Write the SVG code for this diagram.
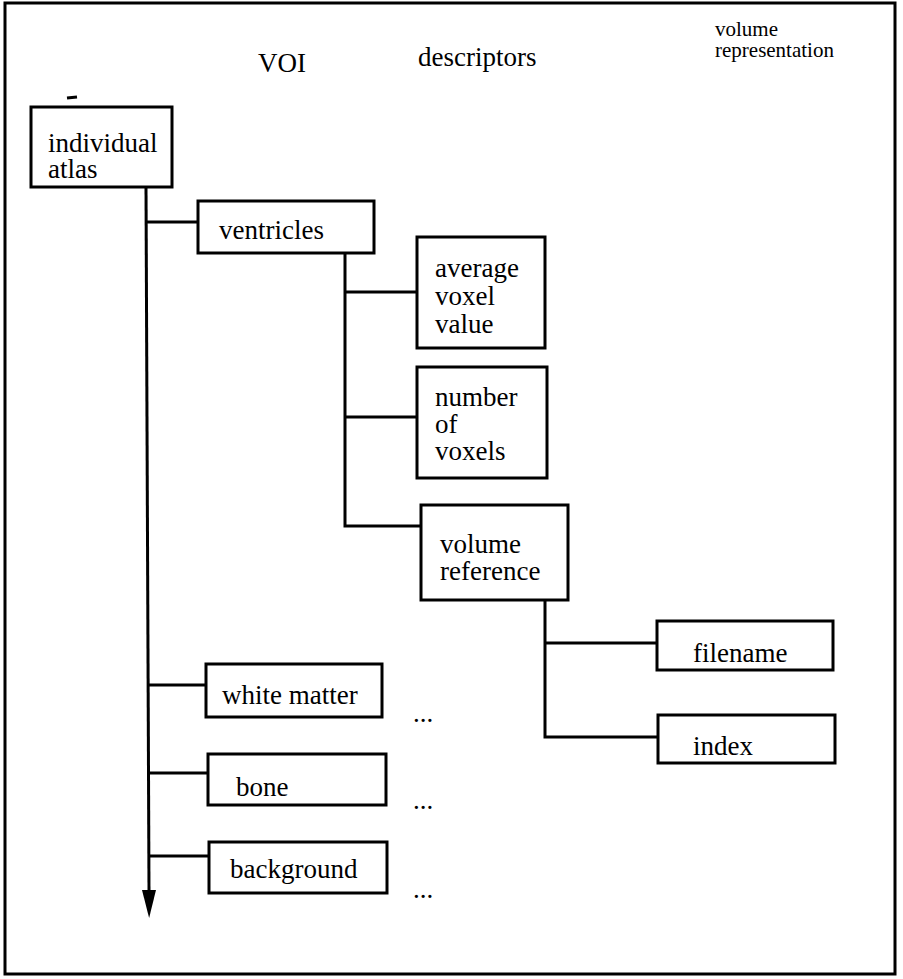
<svg xmlns="http://www.w3.org/2000/svg" width="903" height="979" viewBox="0 0 903 979">
<style>
.box{fill:#fff;stroke:#000;stroke-width:3}
.ln{fill:none;stroke:#000;stroke-width:3}
text{font-family:"Liberation Serif","DejaVu Serif",serif;font-size:27px;fill:#000}
.hs{font-size:21px}
</style>
<defs>
<marker id="ah" markerWidth="28" markerHeight="14" refX="0" refY="7" orient="auto" markerUnits="userSpaceOnUse" viewBox="0 0 28 14">
<path d="M0,0 L28,7 L0,14 Z" fill="#000"/>
</marker>
</defs>
<rect x="5" y="3" width="890" height="971" fill="#fff" stroke="#000" stroke-width="3"/>
<g id="headers" font-family="Liberation Serif, DejaVu Serif, serif">
<text x="258" y="72">VOI</text>
<text x="418" y="66">descriptors</text>
<text class="hs" x="715" y="36">volume</text>
<text class="hs" x="715" y="57">representation</text>
</g>
<path d="M67,98 L77,97" stroke="#000" stroke-width="3"/>
<g id="connectors">
<path class="ln" d="M146,187 L149,890" marker-end="url(#ah)"/>
<path class="ln" d="M146,222 L198,222"/>
<path class="ln" d="M148,685 L206,685"/>
<path class="ln" d="M148,773 L208,773"/>
<path class="ln" d="M148,856 L209,856"/>
<path class="ln" d="M345,253 L345,526 L421,526"/>
<path class="ln" d="M345,292 L417,292"/>
<path class="ln" d="M345,417 L417,417"/>
<path class="ln" d="M545,600 L545,737 L658,737"/>
<path class="ln" d="M545,643 L657,643"/>
</g>
<g font-family="Liberation Serif, DejaVu Serif, serif">
<g id="individual-atlas"><rect class="box" x="31" y="107" width="141" height="80"/><text x="48" y="152">individual</text><text x="48" y="178">atlas</text></g>
<g id="ventricles"><rect class="box" x="198" y="201" width="176" height="52"/><text x="219" y="239">ventricles</text></g>
<g id="average-voxel-value"><rect class="box" x="417" y="237" width="128" height="111"/><text x="435" y="277">average</text><text x="435" y="305">voxel</text><text x="435" y="333">value</text></g>
<g id="number-of-voxels"><rect class="box" x="417" y="367" width="130" height="111"/><text x="435" y="406">number</text><text x="435" y="433">of</text><text x="435" y="460">voxels</text></g>
<g id="volume-reference"><rect class="box" x="421" y="505" width="147" height="95"/><text x="440" y="553">volume</text><text x="440" y="580">reference</text></g>
<g id="filename"><rect class="box" x="657" y="621" width="176" height="49"/><text x="693" y="662">filename</text></g>
<g id="index"><rect class="box" x="658" y="715" width="177" height="48"/><text x="693" y="755">index</text></g>
<g id="white-matter"><rect class="box" x="206" y="664" width="176" height="53"/><text x="222" y="704">white matter</text></g>
<g id="bone"><rect class="box" x="208" y="754" width="178" height="51"/><text x="236" y="796">bone</text></g>
<g id="background"><rect class="box" x="209" y="842" width="178" height="51"/><text x="230" y="878">background</text></g>
<g id="ellipses">
<text x="413" y="722">...</text>
<text x="413" y="809">...</text>
<text x="413" y="898">...</text>
</g>
</g>
</svg>
